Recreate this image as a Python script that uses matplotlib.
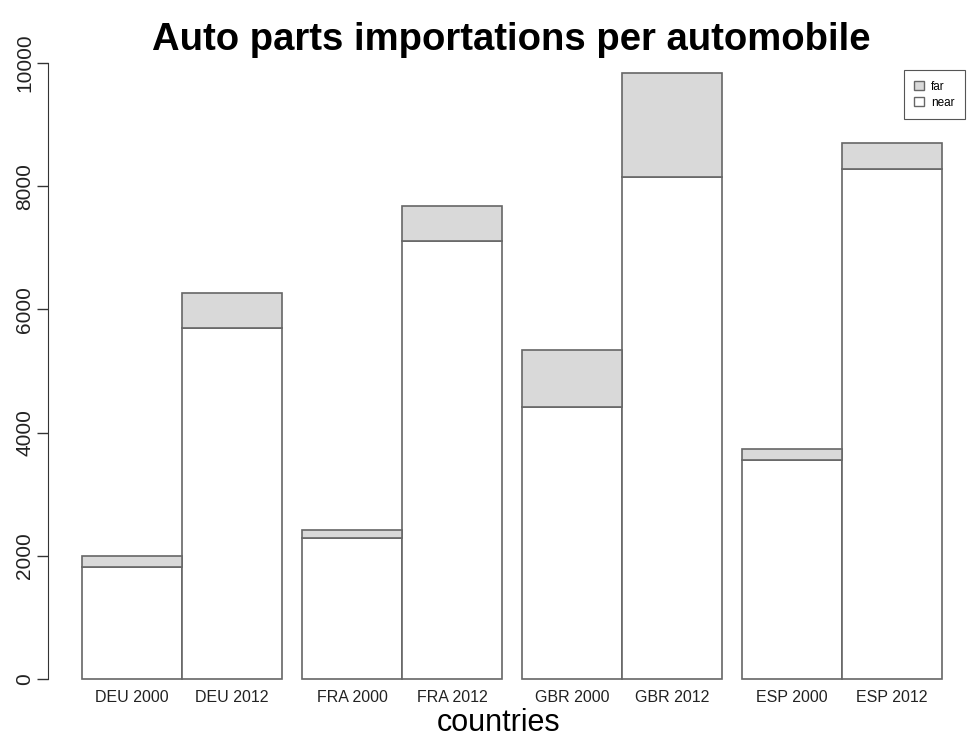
import matplotlib
matplotlib.use('Agg')
import matplotlib.pyplot as plt
from matplotlib.patches import Patch
import numpy as np

# Datos
labels = ['DEU 2000', 'DEU 2012', 'FRA 2000', 'FRA 2012',
          'GBR 2000', 'GBR 2012', 'ESP 2000', 'ESP 2012']
near = [1818, 5698, 2289, 7110, 4416, 8149, 3555, 8279]
total = [1997, 6266, 2419, 7678, 5341, 9838, 3734, 8701]
far = [t - n for t, n in zip(total, near)]

plt.rcParams['font.family'] = ['Liberation Sans', 'DejaVu Sans']

W, H = 967, 738
fig = plt.figure(figsize=(W / 100, H / 100), dpi=100)

# region del grafico en pixeles (estilo R)
left_px, right_px, bottom_px, top_px = 48, 965, 679, 49
ax = fig.add_axes([left_px / W, 1 - bottom_px / H,
                   (right_px - left_px) / W, (bottom_px - top_px) / H])

# barras de ancho 1, pares por pais con hueco de 0.2
idx = np.arange(len(labels))
lefts = idx + 0.2 * (idx // 2)
centers = lefts + 0.5

edge = '#666666'
ax.bar(centers, near, width=1, color='white', edgecolor=edge, linewidth=1.2, clip_on=False)
ax.bar(centers, far, width=1, bottom=near, color='#d9d9d9', edgecolor=edge, linewidth=1.2, clip_on=False)

ax.set_xlim((left_px - 82) / 100, (right_px - 82) / 100)
ax.set_ylim(0, (bottom_px - top_px) / 0.0616)

# ejes estilo R
for s in ['top', 'right', 'bottom']:
    ax.spines[s].set_visible(False)
ax.spines['left'].set_bounds(0, 10000)
ax.spines['left'].set_color('#333333')
ax.set_yticks(np.arange(0, 10001, 2000))
ax.tick_params(axis='y', length=8, width=1, color='#333333', pad=2,
               labelsize=15, labelcolor='#222222')
for t in ax.get_yticklabels():
    t.set_rotation(90)
    t.set_va('center')

ax.set_xticks(centers)
ax.set_xticklabels(labels)
ax.tick_params(axis='x', length=0, pad=8, labelsize=11.5, labelcolor='#222222')

fig.text(511 / W, 1 - 50 / H,
         'Auto parts importations per automobile',
         ha='center', va='baseline', fontsize=27.5, fontweight='bold')
fig.text(499 / W, 1 - 731 / H, 'countries',
         ha='center', va='baseline', fontsize=22)

handles = [Patch(facecolor='#d9d9d9', edgecolor=edge, label='far'),
           Patch(facecolor='white', edgecolor=edge, label='near')]
leg = fig.legend(handles=handles, loc='upper right',
                 bbox_to_anchor=(right_px / W, 1 - 70 / H),
                 fontsize=8.5, fancybox=False, framealpha=1,
                 handlelength=0.8, handleheight=0.8, handletextpad=0.6,
                 borderpad=0.9, labelspacing=0.35, borderaxespad=0)
leg.get_frame().set_edgecolor('#555555')
leg.get_frame().set_linewidth(0.8)

fig.savefig('out.png', dpi=100)
